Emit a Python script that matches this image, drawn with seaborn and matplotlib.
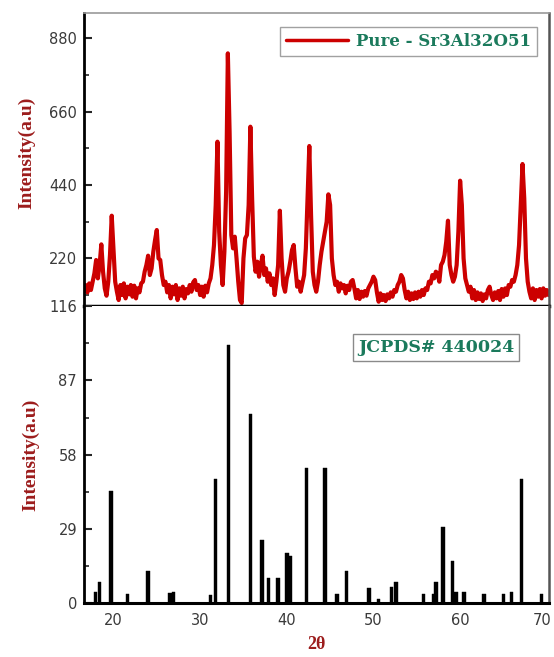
import numpy as np
import matplotlib
matplotlib.use("Agg")
import matplotlib.pyplot as plt
import matplotlib.transforms as mtransforms
from matplotlib.ticker import MultipleLocator
import seaborn as sns

scan_start = 16.6
scan_step = 0.2
intensity = [
    120, 140, 118, 145, 125, 150, 175, 215, 160, 200,   # 16.6 - 18.4
    262, 180, 130, 108, 150, 230, 348, 250, 150, 120,   # 18.6 - 20.4
    95, 140, 110, 145, 100, 135, 112, 140, 105, 138,    # 20.6 - 22.4
    100, 130, 118, 145, 150, 180, 200, 228, 170, 190,   # 22.6 - 24.4
    240, 275, 305, 220, 215, 170, 140, 150, 118, 140,   # 24.6 - 26.4
    100, 135, 112, 140, 95, 130, 108, 135, 100, 128,    # 26.6 - 28.4
    115, 140, 120, 148, 155, 125, 140, 110, 135, 105,   # 28.6 - 30.4
    138, 118, 145, 160, 200, 260, 380, 570, 300, 200,   # 30.6 - 32.4
    140, 240, 420, 835, 600, 290, 250, 285, 220, 150,   # 32.6 - 34.4
    95, 86, 220, 280, 290, 380, 615, 400, 225, 180,     # 34.6 - 36.4
    210, 165, 200, 228, 170, 190, 150, 175, 140, 160,   # 36.6 - 38.4
    110, 150, 200, 363, 220, 140, 120, 160, 180, 210,   # 38.6 - 40.4
    245, 260, 190, 135, 150, 120, 145, 170, 250, 400,   # 40.6 - 42.4
    557, 350, 180, 140, 120, 150, 200, 240, 270, 300,   # 42.6 - 44.4
    330, 412, 380, 220, 170, 140, 150, 120, 145, 130,   # 44.6 - 46.4
    140, 115, 138, 125, 150, 155, 130, 100, 125, 98,    # 46.6 - 48.4
    120, 105, 122, 108, 130, 140, 150, 165, 155, 118,   # 48.6 - 50.4
    90, 115, 95, 110, 92, 112, 100, 118, 105, 125,      # 50.6 - 52.4
    120, 140, 150, 170, 160, 125, 100, 120, 95, 115,    # 52.6 - 54.4
    98, 118, 100, 120, 105, 125, 110, 130, 125, 150,    # 54.6 - 56.4
    145, 170, 160, 180, 175, 150, 200, 210, 230, 270,   # 56.6 - 58.4
    333, 200, 170, 150, 165, 200, 300, 453, 380, 220,   # 58.6 - 60.4
    160, 140, 120, 135, 100, 125, 95, 118, 98, 115,     # 60.6 - 62.4
    92, 112, 100, 125, 135, 110, 95, 118, 100, 122,     # 62.6 - 64.4
    95, 128, 105, 130, 110, 140, 135, 155, 150, 170,    # 64.6 - 66.4
    200, 260, 380, 503, 400, 220, 150, 120, 100, 130,   # 66.6 - 68.4
    95, 125, 105, 128, 100, 130, 108, 125, 110,         # 68.6 - 70.2
]
two_theta = np.round(scan_start + scan_step * np.arange(len(intensity)), 1)

# JCPDS# 440024 reference lines
ref_pos = [17.9, 18.4, 19.7, 21.6, 24.0, 26.5, 26.9, 31.2, 31.8, 33.3,
           35.8, 37.15, 37.9, 39.0, 40.0, 40.4, 42.25, 44.4, 45.8, 46.9,
           49.5, 50.6, 52.1, 52.6, 55.8, 57.0, 57.2, 58.0, 59.15, 59.5,
           60.45, 62.75, 65.0, 65.9, 67.1, 69.4]
ref_int = [4.6, 8.5, 43.9, 3.7, 12.8, 3.9, 4.6, 3.3, 48.7, 100.8,
           73.7, 24.9, 9.8, 9.8, 19.6, 18.6, 52.8, 52.8, 3.6, 12.8,
           5.9, 1.6, 6.5, 8.3, 3.7, 3.7, 8.3, 29.9, 16.7, 4.6,
           4.6, 3.7, 3.7, 4.6, 48.7, 3.7]

top_ticks = [220, 440, 660, 880]
bot_ticks = [0, 29, 58, 87, 116]
x_ticks = [20, 30, 40, 50, 60, 70]

sns.set_style("white")
plt.rcParams['font.family'] = ['DejaVu Sans']

label_red = '#9c1c1c'
teal = '#1b7a5c'
tick_grey = '#3a3a3a'

fig = plt.figure(figsize=(5.54, 6.57), dpi=100)
ax_top = fig.add_axes([0.1516, 0.5342, 0.8385, 0.4460])
ax_bot = fig.add_axes([0.1516, 0.0817, 0.8385, 0.4525])

# top: measured pattern
sns.lineplot(x=two_theta, y=intensity, ax=ax_top, color='#cc0000',
             linewidth=3.0, label='Pure - Sr3Al32O51', errorbar=None)
ax_top.set_xlim(16.6, 70.2)
ax_top.set_ylim(77, 956)
ax_top.set_yticks(top_ticks)
ax_top.yaxis.set_minor_locator(MultipleLocator(110))
ax_top.tick_params(axis='x', bottom=False, labelbottom=False)
ax_top.tick_params(axis='y', which='major', direction='in', length=6, width=1.5,
                   labelsize=10.5, labelcolor=tick_grey, pad=5, left=True)
ax_top.tick_params(axis='y', which='minor', direction='in', length=3.5, width=1.2, left=True)
ax_top.set_xlabel('')
ax_top.set_ylabel('Intensity(a.u)', fontsize=14, fontweight='bold',
                  family='Liberation Serif', color=label_red)
ax_top.yaxis.set_label_coords(-0.105, 0.524)

leg = ax_top.legend(loc='upper right', bbox_to_anchor=(0.975, 0.951), borderaxespad=0,
                    frameon=True, fancybox=False, edgecolor='#8a8a8a',
                    handlelength=3.7, handletextpad=0.5, borderpad=0.35,
                    prop=dict(family='DejaVu Serif', weight='bold', size=12))
leg.get_frame().set_linewidth(1.0)
for t in leg.get_texts():
    t.set_color(teal)
for ln in leg.get_lines():
    ln.set_linewidth(2.5)

# bottom: reference card
ax_bot.bar(ref_pos, ref_int, width=0.4, color='black', edgecolor='black', linewidth=0.3)
ax_bot.set_xlim(16.6, 70.2)
ax_bot.set_ylim(0, 116)
ax_bot.set_yticks(bot_ticks)
ax_bot.set_xticks(x_ticks)
ax_bot.yaxis.set_minor_locator(MultipleLocator(14.5))
ax_bot.tick_params(axis='x', length=0, pad=7, labelsize=10.5, labelcolor=tick_grey)
ax_bot.tick_params(axis='y', which='major', direction='in', length=6, width=1.5,
                   labelsize=10.5, labelcolor=tick_grey, pad=5, left=True)
ax_bot.tick_params(axis='y', which='minor', direction='in', length=3.5, width=1.2, left=True)
ax_bot.set_ylabel('Intensity(a.u)', fontsize=14, fontweight='bold',
                  family='Liberation Serif', color=label_red)
ax_bot.yaxis.set_label_coords(-0.097, 0.50)
ax_bot.set_xlabel('2θ', fontsize=13, fontweight='bold', family='Liberation Serif',
                  color=label_red, labelpad=6)
ax_bot.text(0.758, 0.86, 'JCPDS# 440024', transform=ax_bot.transAxes, ha='center',
            va='center', fontsize=12.5, fontweight='bold', family='DejaVu Serif', color=teal,
            bbox=dict(boxstyle='square,pad=0.3', fc='white', ec='#8a8a8a', lw=1.0))

# last tick label sits on the figure edge; nudge it in a few pixels
last = ax_bot.get_xticklabels()[-1]
last.set_transform(last.get_transform() +
                   mtransforms.ScaledTranslation(-3 / 72, 0, fig.dpi_scale_trans))

for ax in (ax_top, ax_bot):
    ax.spines['left'].set_color('black')
    ax.spines['left'].set_linewidth(2)
    ax.spines['right'].set_color('#555555')
    ax.spines['right'].set_linewidth(1.8)
ax_top.spines['top'].set_color('#9a9a9a')
ax_top.spines['top'].set_linewidth(1.2)
ax_top.spines['bottom'].set_color('black')
ax_top.spines['bottom'].set_linewidth(2.5)
ax_bot.spines['top'].set_visible(False)
ax_bot.spines['bottom'].set_color('black')
ax_bot.spines['bottom'].set_linewidth(2.2)

fig.savefig('out.png', dpi=100)
